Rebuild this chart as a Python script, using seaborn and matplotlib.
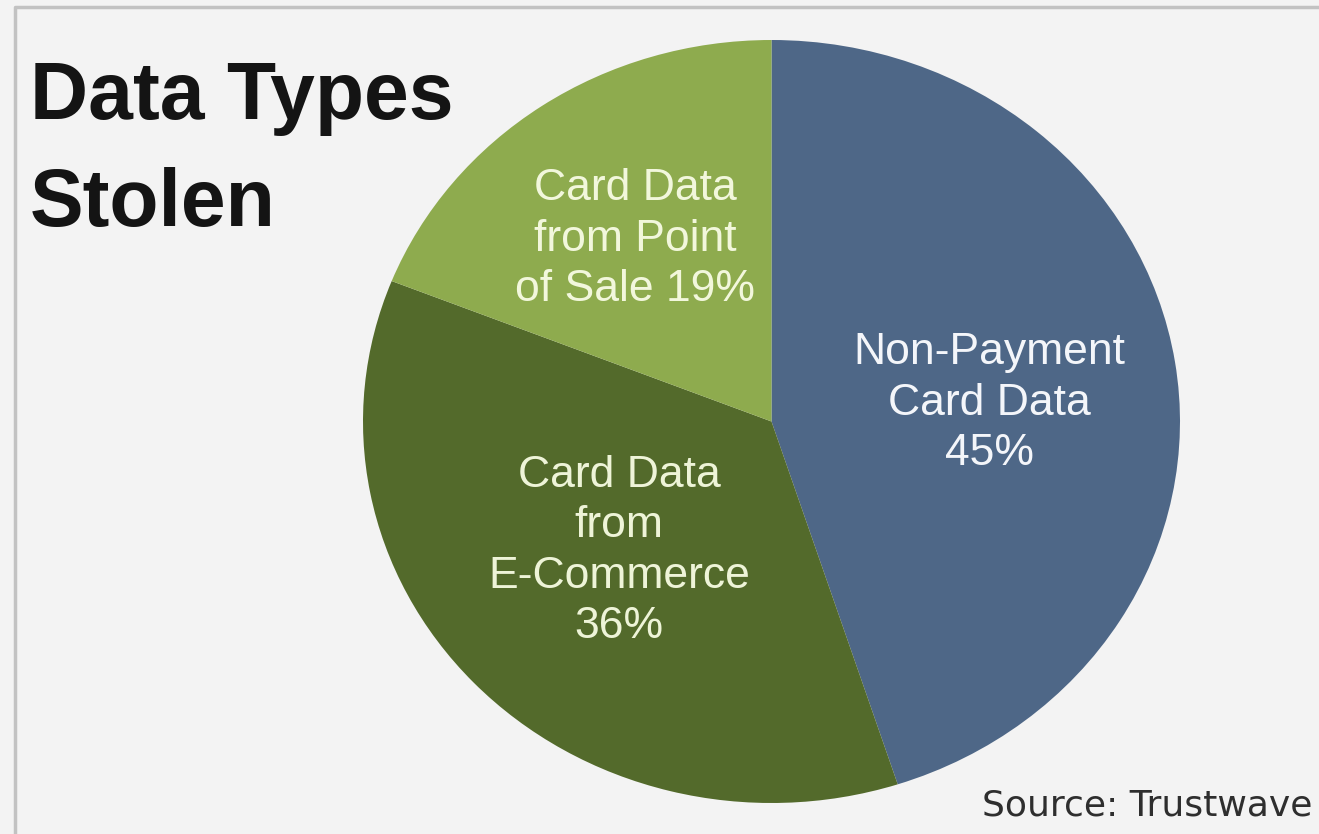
import matplotlib
matplotlib.use("Agg")
import matplotlib.pyplot as plt
import seaborn as sns

categories = ["Non-Payment\nCard Data\n45%", "Card Data\nfrom\nE-Commerce\n36%", "Card Data\nfrom Point\nof Sale 19%"]
values = [45, 36, 19]
colors = ["#4e6787", "#536a2b", "#8eab4e"]
title = "Data Types\nStolen"
source = "Source: Trustwave"

sns.set_theme(style="white")
plt.rcParams["font.family"] = ["Liberation Sans", "DejaVu Sans"]

W, H = 1319, 834
fig = plt.figure(figsize=(W / 100, H / 100), dpi=100, facecolor="#f3f3f3")

# background axes in pixel coordinates
bg = fig.add_axes([0, 0, 1, 1], zorder=0)
bg.set_xlim(0, W)
bg.set_ylim(H, 0)
bg.set_facecolor("#f3f3f3")
bg.axis("off")
bg.plot([15, 15, W], [H, 7, 7], color="#c2c2c2", lw=2.5, solid_capstyle="butt")

# pie axes (slightly elliptical)
L, R, T, B = 363, 1180, 40, 803
pax = fig.add_axes([L / W, 1 - B / H, (R - L) / W, (B - T) / H], zorder=1)
wedges, _ = pax.pie(values, colors=colors, startangle=90, counterclock=False,
                    wedgeprops=dict(linewidth=0))
pax.set_aspect("auto")
pax.set_xlim(-1, 1)
pax.set_ylim(-1, 1)
pax.axis("off")

# overlay axes for text
ov = fig.add_axes([0, 0, 1, 1], zorder=2)
ov.set_xlim(0, W)
ov.set_ylim(H, 0)
ov.patch.set_alpha(0)
ov.axis("off")

label_pos = [(989, 403), (619, 551), (635, 239)]
label_colors = ["#f4f6fa", "#eef4d8", "#f2f7dc"]
for txt, (x, y), c in zip(categories, label_pos, label_colors):
    ov.text(x, y, txt, ha="center", va="center", fontsize=32, color=c,
            linespacing=1.3)

ov.text(30, 60, title, ha="left", va="top", fontsize=58, fontweight="bold",
        color="#141414", linespacing=1.53)
ov.text(1312, 816, source, ha="right", va="baseline", fontsize=26,
        color="#2e2e2e", family=["DejaVu Sans"])

fig.savefig("out.png", dpi=100, facecolor=fig.get_facecolor())
